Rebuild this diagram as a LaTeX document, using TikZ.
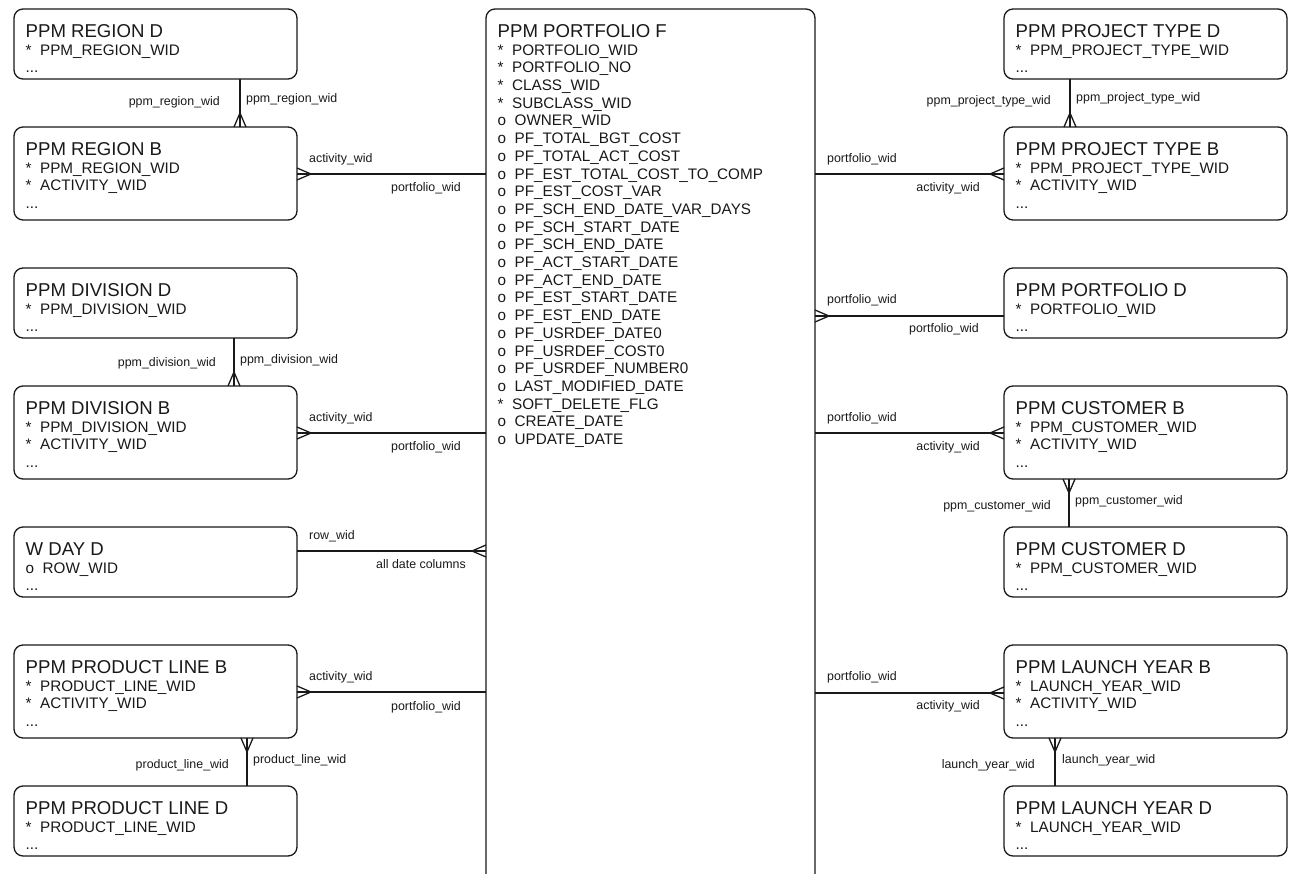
\documentclass[tikz,border=0pt]{standalone}
\usepackage{fontspec}
\setmainfont{Liberation Sans}
\usetikzlibrary{calc}
\newcommand{\edots}{...}
\tikzset{
  ebox/.style={draw=black!90, line width=1.3pt, rounded corners=9pt, inner sep=0pt, outer sep=0pt, fill=white},
  ttl/.style={inner sep=0pt, text=black!90, font=\fontsize{18.6}{20}\selectfont},
  att/.style={inner sep=0pt, text=black!90, font=\fontsize{15.25}{17}\selectfont},
  lbl/.style={inner sep=0pt, text=black!90, font=\fontsize{12.4}{14}\selectfont},
  conn/.style={draw=black!90, line width=1.3pt},
  ftR/.pic={\draw[conn] (0,-6) -- (14,0) -- (0,6);},
  ftL/.pic={\draw[conn] (0,-6) -- (-14,0) -- (0,6);},
  ftU/.pic={\draw[conn] (-6,0) -- (0,-14) -- (6,0);},
  ftD/.pic={\draw[conn] (-6,0) -- (0,14) -- (6,0);},
}
\newcommand{\erent}[6]{%
  \node[ebox, minimum width=#3pt, minimum height=#4pt, anchor=north west] (#1) at (#2) {};
  \node[ttl, anchor=base west] (#1-t) at ($(#1.north west)+(11.5,28.5)$) {#5};
  \foreach \a [count=\i] in {#6} {\node[att, anchor=base west] (#1-\i) at ($(#1.north west)+(11.5,{28.5+17.7*\i})$) {\a};}
}
\begin{document}
\begin{tikzpicture}[x=1pt,y=-1pt]
\useasboundingbox (0,0) rectangle (1298,874);
\clip (0,0) rectangle (1298,874);
\fill[white] (0,0) rectangle (1298,874);

% central fact
\erent{pf}{486,9}{329}{920}{PPM PORTFOLIO F}{*~~PORTFOLIO\_WID,*~~PORTFOLIO\_NO,*~~CLASS\_WID,*~~SUBCLASS\_WID,o~~OWNER\_WID,o~~PF\_TOTAL\_BGT\_COST,o~~PF\_TOTAL\_ACT\_COST,o~~PF\_EST\_TOTAL\_COST\_TO\_COMP,o~~PF\_EST\_COST\_VAR,o~~PF\_SCH\_END\_DATE\_VAR\_DAYS,o~~PF\_SCH\_START\_DATE,o~~PF\_SCH\_END\_DATE,o~~PF\_ACT\_START\_DATE,o~~PF\_ACT\_END\_DATE,o~~PF\_EST\_START\_DATE,o~~PF\_EST\_END\_DATE,o~~PF\_USRDEF\_DATE0,o~~PF\_USRDEF\_COST0,o~~PF\_USRDEF\_NUMBER0,o~~LAST\_MODIFIED\_DATE,*~~SOFT\_DELETE\_FLG,o~~CREATE\_DATE,o~~UPDATE\_DATE}

% left column
\erent{regD}{14,9}{283}{70}{PPM REGION D}{*~~PPM\_REGION\_WID,\edots}
\erent{regB}{14,127}{283}{93}{PPM REGION B}{*~~PPM\_REGION\_WID,*~~ACTIVITY\_WID,\edots}
\erent{divD}{14,268}{283}{70}{PPM DIVISION D}{*~~PPM\_DIVISION\_WID,\edots}
\erent{divB}{14,386}{283}{93}{PPM DIVISION B}{*~~PPM\_DIVISION\_WID,*~~ACTIVITY\_WID,\edots}
\erent{wday}{14,527}{283}{70}{W DAY D}{o~~ROW\_WID,\edots}
\erent{plB}{14,645}{283}{93}{PPM PRODUCT LINE B}{*~~PRODUCT\_LINE\_WID,*~~ACTIVITY\_WID,\edots}
\erent{plD}{14,786}{283}{70}{PPM PRODUCT LINE D}{*~~PRODUCT\_LINE\_WID,\edots}

% right column
\erent{ptD}{1004,9}{283}{70}{PPM PROJECT TYPE D}{*~~PPM\_PROJECT\_TYPE\_WID,\edots}
\erent{ptB}{1004,127}{283}{93}{PPM PROJECT TYPE B}{*~~PPM\_PROJECT\_TYPE\_WID,*~~ACTIVITY\_WID,\edots}
\erent{pfD}{1004,268}{283}{70}{PPM PORTFOLIO D}{*~~PORTFOLIO\_WID,\edots}
\erent{cuB}{1004,386}{283}{93}{PPM CUSTOMER B}{*~~PPM\_CUSTOMER\_WID,*~~ACTIVITY\_WID,\edots}
\erent{cuD}{1004,527}{283}{70}{PPM CUSTOMER D}{*~~PPM\_CUSTOMER\_WID,\edots}
\erent{lyB}{1004,645}{283}{93}{PPM LAUNCH YEAR B}{*~~LAUNCH\_YEAR\_WID,*~~ACTIVITY\_WID,\edots}
\erent{lyD}{1004,786}{283}{70}{PPM LAUNCH YEAR D}{*~~LAUNCH\_YEAR\_WID,\edots}

% ---- connectors, left
\draw[conn] (regD.south -| 240,0) -- (regB.north -| 240,0);
\pic at (regB.north -| 240,0) {ftU};
\node[lbl, anchor=base east] (l01) at (220,105.5) {ppm\_region\_wid};
\node[lbl, anchor=base west] (l02) at (246,103) {ppm\_region\_wid};

\draw[conn] (regB.east |- 0,174) -- (pf.west |- 0,174);
\pic at (regB.east |- 0,174) {ftR};
\node[lbl, anchor=base west] (l03) at (309,162.3) {activity\_wid};
\node[lbl, anchor=base east] (l04) at (461,191.5) {portfolio\_wid};

\draw[conn] (divD.south -| 234,0) -- (divB.north -| 234,0);
\pic at (divB.north -| 234,0) {ftU};
\node[lbl, anchor=base east] (l05) at (216,366.5) {ppm\_division\_wid};
\node[lbl, anchor=base west] (l06) at (240,363) {ppm\_division\_wid};

\draw[conn] (divB.east |- 0,433) -- (pf.west |- 0,433);
\pic at (divB.east |- 0,433) {ftR};
\node[lbl, anchor=base west] (l07) at (309,421.5) {activity\_wid};
\node[lbl, anchor=base east] (l08) at (461,450.7) {portfolio\_wid};

\draw[conn] (wday.east |- 0,551) -- (pf.west |- 0,551);
\pic at (pf.west |- 0,551) {ftL};
\node[lbl, anchor=base west] (l09) at (309,539.5) {row\_wid};
\node[lbl, anchor=base east] (l10) at (466,568.5) {all date columns};

\draw[conn] (plB.east |- 0,692) -- (pf.west |- 0,692);
\pic at (plB.east |- 0,692) {ftR};
\node[lbl, anchor=base west] (l11) at (309,680.5) {activity\_wid};
\node[lbl, anchor=base east] (l12) at (461,710) {portfolio\_wid};

\draw[conn] (plB.south -| 247,0) -- (plD.north -| 247,0);
\pic at (plB.south -| 247,0) {ftD};
\node[lbl, anchor=base east] (l13) at (229,768) {product\_line\_wid};
\node[lbl, anchor=base west] (l14) at (253,763) {product\_line\_wid};

% ---- connectors, right
\draw[conn] (ptD.south -| 1070,0) -- (ptB.north -| 1070,0);
\pic at (ptB.north -| 1070,0) {ftU};
\node[lbl, anchor=base east] (r01) at (1051,105) {ppm\_project\_type\_wid};
\node[lbl, anchor=base west] (r02) at (1076,102) {ppm\_project\_type\_wid};

\draw[conn] (pf.east |- 0,174) -- (ptB.west |- 0,174);
\pic at (ptB.west |- 0,174) {ftL};
\node[lbl, anchor=base west] (r03) at (827,162.3) {portfolio\_wid};
\node[lbl, anchor=base east] (r04) at (980,191.7) {activity\_wid};

\draw[conn] (pf.east |- 0,316) -- (pfD.west |- 0,316);
\pic at (pf.east |- 0,316) {ftR};
\node[lbl, anchor=base west] (r05) at (827,303.5) {portfolio\_wid};
\node[lbl, anchor=base east] (r06) at (979,333) {portfolio\_wid};

\draw[conn] (pf.east |- 0,433) -- (cuB.west |- 0,433);
\pic at (cuB.west |- 0,433) {ftL};
\node[lbl, anchor=base west] (r07) at (827,421.5) {portfolio\_wid};
\node[lbl, anchor=base east] (r08) at (980,450.5) {activity\_wid};

\draw[conn] (cuB.south -| 1069,0) -- (cuD.north -| 1069,0);
\pic at (cuB.south -| 1069,0) {ftD};
\node[lbl, anchor=base east] (r09) at (1051,509) {ppm\_customer\_wid};
\node[lbl, anchor=base west] (r10) at (1075,504) {ppm\_customer\_wid};

\draw[conn] (pf.east |- 0,693) -- (lyB.west |- 0,693);
\pic at (lyB.west |- 0,693) {ftL};
\node[lbl, anchor=base west] (r11) at (827,680.5) {portfolio\_wid};
\node[lbl, anchor=base east] (r12) at (980,709.5) {activity\_wid};

\draw[conn] (lyB.south -| 1055,0) -- (lyD.north -| 1055,0);
\pic at (lyB.south -| 1055,0) {ftD};
\node[lbl, anchor=base east] (r13) at (1035,768) {launch\_year\_wid};
\node[lbl, anchor=base west] (r14) at (1062,763) {launch\_year\_wid};
\end{tikzpicture}
\end{document}
